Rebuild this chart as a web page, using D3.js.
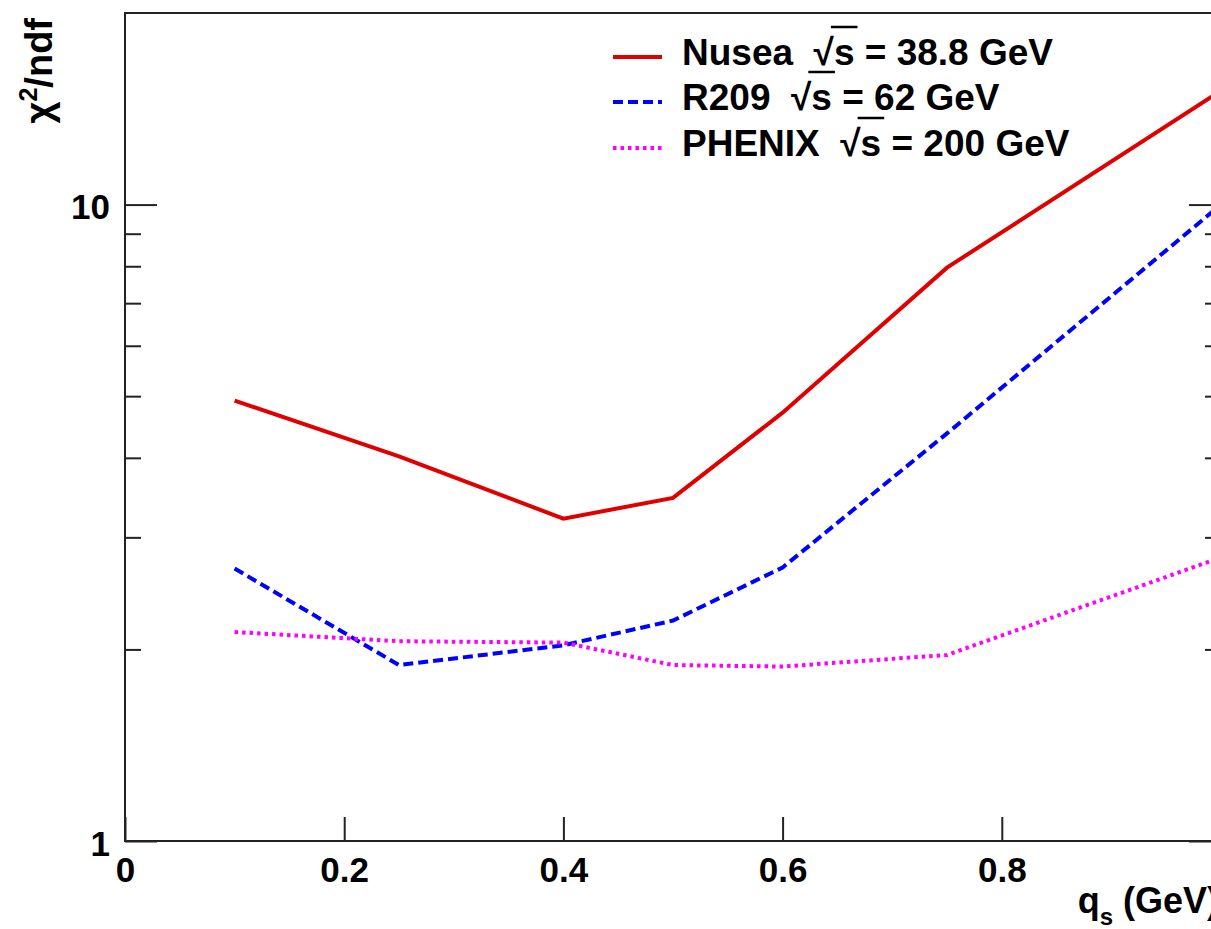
<!DOCTYPE html>
<html>
<head>
<meta charset="utf-8">
<script src="https://cdn.jsdelivr.net/npm/d3@7"></script>
<style>
  body { margin: 0; background: #fff; overflow: hidden; }
  svg { display: block; font-family: "Liberation Sans", Arial, sans-serif; font-weight: bold; }
  svg text { white-space: pre; }
</style>
</head>
<body>
<div id="chart"></div>
<script>
// values
const qs = [0.1, 0.25, 0.4, 0.5, 0.6, 0.75, 1.0];
const nusea = [4.92, 4.02, 3.21, 3.46, 4.71, 7.96, 15.1];
const r209 = [2.68, 1.89, 2.03, 2.22, 2.69, 4.37, 10.0];
const phenix = [2.13, 2.06, 2.05, 1.89, 1.88, 1.96, 2.79];

const xTicks = [0, 0.2, 0.4, 0.6, 0.8];
const yMajor = [1, 10];
const yMinor = [2, 3, 4, 5, 6, 7, 8, 9];

const names = ["Nusea", "R209", "PHENIX"];
const energies = ["38.8", "62", "200"];
const colors = ["#e00000", "#0000ff", "#ff00ff"];
const dashes = [null, "10,5", "3.5,4"];

const fullWidth = 1211;
const fullHeight = 929;
const frame = { left: 125, right: 1221, top: 13, bottom: 841 };

const x = d3.scaleLinear().domain([0, 1]).range([frame.left, frame.right]);
const y = d3.scaleLog().domain([1, 20]).range([frame.bottom, frame.top]);

const svg = d3
  .select("#chart")
  .append("svg")
  .attr("width", fullWidth)
  .attr("height", fullHeight);

// curves
const line = d3
  .line()
  .x(d => x(d[0]))
  .y(d => y(d[1]));

const allSeries = [nusea, r209, phenix];
allSeries.forEach((vals, i) => {
  svg
    .append("path")
    .datum(qs.map((q, j) => [q, vals[j]]))
    .attr("d", line)
    .attr("fill", "none")
    .attr("stroke", colors[i])
    .attr("stroke-width", 4)
    .attr("stroke-dasharray", dashes[i]);
});

// frame
svg
  .append("rect")
  .attr("x", frame.left)
  .attr("y", frame.top)
  .attr("width", frame.right - frame.left)
  .attr("height", frame.bottom - frame.top)
  .attr("fill", "none")
  .attr("stroke", "#222")
  .attr("stroke-width", 2);

const tickStyle = g => {
  g.select(".domain").remove();
  g.selectAll(".tick line").attr("stroke", "#222").attr("stroke-width", 2);
  g.selectAll("text").attr("fill", "#000");
};

// x axis
svg
  .append("g")
  .attr("transform", `translate(0, ${frame.bottom})`)
  .call(
    d3
      .axisBottom(x)
      .tickValues(xTicks)
      .tickSizeInner(-24)
      .tickSizeOuter(0)
      .tickPadding(16)
      .tickFormat(d3.format("~g"))
  )
  .call(tickStyle)
  .call(g => g.selectAll("text").attr("font-size", 35).attr("font-family", null).attr("dy", "0.7em"));

// y axis, left
svg
  .append("g")
  .attr("transform", `translate(${frame.left}, 0)`)
  .call(
    d3
      .axisLeft(y)
      .tickValues(yMajor)
      .tickSizeInner(-32)
      .tickSizeOuter(0)
      .tickPadding(15)
      .tickFormat(d3.format("d"))
  )
  .call(tickStyle)
  .call(g => g.selectAll("text").attr("font-size", 35).attr("font-family", null).attr("dy", "0.4em"));

svg
  .append("g")
  .attr("transform", `translate(${frame.left}, 0)`)
  .call(d3.axisLeft(y).tickValues(yMinor).tickSizeInner(-16).tickSizeOuter(0).tickFormat(""))
  .call(tickStyle);

// y axis, right (ticks only)
svg
  .append("g")
  .attr("transform", `translate(${frame.right}, 0)`)
  .call(d3.axisRight(y).tickValues(yMajor).tickSizeInner(-32).tickSizeOuter(0).tickFormat(""))
  .call(tickStyle);

svg
  .append("g")
  .attr("transform", `translate(${frame.right}, 0)`)
  .call(d3.axisRight(y).tickValues(yMinor).tickSizeInner(-16).tickSizeOuter(0).tickFormat(""))
  .call(tickStyle);

// axis titles
const xTitle = svg
  .append("text")
  .attr("x", 1219)
  .attr("y", 913)
  .attr("text-anchor", "end")
  .attr("font-size", 36);
xTitle.append("tspan").text("q");
xTitle.append("tspan").attr("font-size", 24).attr("dy", 12).text("s");
xTitle.append("tspan").attr("dy", -12).text(" (GeV)");

const yTitle = svg
  .append("text")
  .attr("transform", "translate(52, 18) rotate(-90)")
  .attr("text-anchor", "end")
  .attr("font-size", 38);
yTitle.append("tspan").text("χ");
yTitle.append("tspan").attr("font-size", 25).attr("dy", -15).text("2");
yTitle.append("tspan").attr("dy", 15).text("/ndf");

// legend
const legendX = 613;
const legendTextX = 682;
const rowBase = [65, 110, 156];

names.forEach((name, i) => {
  const base = rowBase[i];
  svg
    .append("line")
    .attr("x1", legendX)
    .attr("x2", legendX + 49)
    .attr("y1", base - 8)
    .attr("y2", base - 8)
    .attr("stroke", colors[i])
    .attr("stroke-width", 4)
    .attr("stroke-dasharray", dashes[i]);

  const label = `${name}  √s = ${energies[i]} GeV`;
  const t = svg
    .append("text")
    .attr("x", legendTextX)
    .attr("y", base)
    .attr("font-size", 37)
    .text(label);

  // overline of the radical over "s"
  const node = t.node();
  const k = label.indexOf("√");
  const x0 = node.getEndPositionOfChar(k).x - 3;
  const x1 = node.getEndPositionOfChar(k + 1).x + 3;
  svg
    .append("line")
    .attr("x1", x0)
    .attr("x2", x1)
    .attr("y1", base - 38)
    .attr("y2", base - 38)
    .attr("stroke", "#000")
    .attr("stroke-width", 2.5);
});
</script>
</body>
</html>
